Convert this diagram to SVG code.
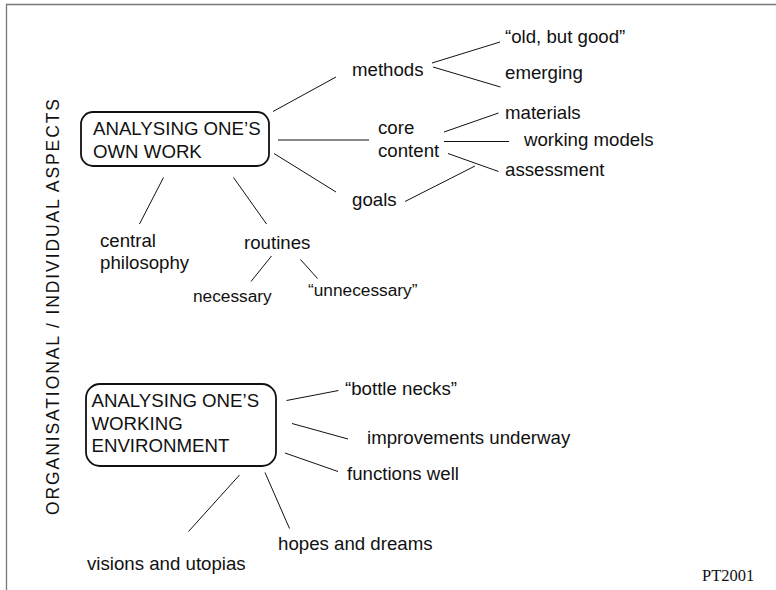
<svg xmlns="http://www.w3.org/2000/svg" width="776" height="590" viewBox="0 0 776 590">
<style>
text{font-family:"Liberation Sans",Arial,sans-serif;font-size:18.67px;fill:#111}
.sm{font-size:17.3px}
.box{fill:#fff;stroke:#111;stroke-width:1.8}
.con line{stroke:#111;stroke-width:1}
.frame{stroke:#777;stroke-width:1.3;fill:none}
.sig{font-family:"Liberation Serif","Times New Roman",serif;font-size:16.5px}
</style>
<rect width="776" height="590" fill="#fff"/>
<path class="frame" d="M6.5 590 V4.5 H776"/>
<text id="side" transform="translate(59,307) rotate(-90)" text-anchor="middle" textLength="416" lengthAdjust="spacing" style="font-size:17.5px">ORGANISATIONAL / INDIVIDUAL ASPECTS</text>
<g class="con">
<line x1="273" y1="111.5" x2="336" y2="77"/>
<line x1="278" y1="140" x2="369" y2="140"/>
<line x1="274" y1="153.5" x2="336" y2="192"/>
<line x1="432" y1="63" x2="500" y2="42"/>
<line x1="433" y1="67" x2="500.5" y2="87"/>
<line x1="444" y1="132" x2="498.5" y2="113"/>
<line x1="444" y1="141.5" x2="509" y2="141.5"/>
<line x1="448" y1="153.5" x2="498.5" y2="171.5"/>
<line x1="405" y1="201.5" x2="475" y2="166"/>
<line x1="163.5" y1="177.5" x2="139.5" y2="224"/>
<line x1="233.5" y1="177.5" x2="266.5" y2="224"/>
<line x1="271.5" y1="256" x2="251" y2="281.5"/>
<line x1="300.5" y1="259.5" x2="317.5" y2="278.5"/>
<line x1="286.5" y1="400.5" x2="338.5" y2="390.5"/>
<line x1="292" y1="423.5" x2="348" y2="439"/>
<line x1="285" y1="453" x2="338" y2="471.5"/>
<line x1="239.5" y1="475" x2="188.5" y2="531.5"/>
<line x1="265" y1="472.5" x2="289.5" y2="528.5"/>
</g>
<g id="own-work">
<rect class="box" x="81" y="112" width="188" height="54" rx="12"/>
<text x="93" y="135">ANALYSING ONE’S</text>
<text x="93" y="158">OWN WORK</text>
</g>
<g id="environment">
<rect class="box" x="86" y="384" width="190" height="82" rx="14"/>
<text x="91.5" y="407">ANALYSING ONE’S</text>
<text x="91.5" y="429.5">WORKING</text>
<text x="91.5" y="452">ENVIRONMENT</text>
</g>
<g id="methods"><text x="352" y="76">methods</text></g>
<g id="old-good"><text x="505" y="43">“old, but good”</text></g>
<g id="emerging"><text x="505" y="79">emerging</text></g>
<g id="core-content"><text x="378" y="134">core</text><text x="378" y="157">content</text></g>
<g id="materials"><text x="505" y="119">materials</text></g>
<g id="working-models"><text x="524" y="146">working models</text></g>
<g id="assessment"><text x="505" y="176">assessment</text></g>
<g id="goals"><text x="352" y="206">goals</text></g>
<g id="central-philosophy"><text x="100" y="247">central</text><text x="100" y="269">philosophy</text></g>
<g id="routines"><text x="244" y="249">routines</text></g>
<g id="necessary"><text class="sm" x="193" y="302">necessary</text></g>
<g id="unnecessary"><text class="sm" x="308" y="296">“unnecessary”</text></g>
<g id="bottle-necks"><text x="345" y="395">“bottle necks”</text></g>
<g id="improvements"><text x="367" y="444">improvements underway</text></g>
<g id="functions-well"><text x="347" y="480">functions well</text></g>
<g id="hopes"><text x="278" y="550">hopes and dreams</text></g>
<g id="visions"><text x="87" y="570">visions and utopias</text></g>
<text class="sig" x="702" y="581">PT2001</text>
</svg>
